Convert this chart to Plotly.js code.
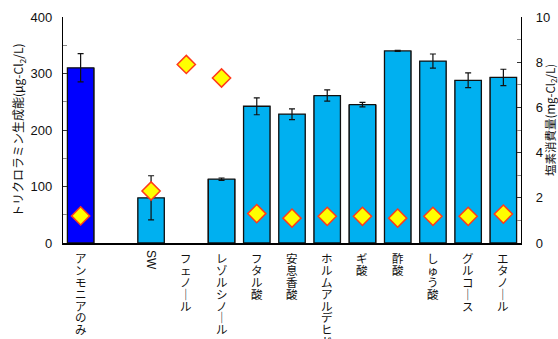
<!DOCTYPE html>
<html>
<head>
<meta charset="utf-8">
<script src="https://cdn.plot.ly/plotly-3.0.1.min.js"></script>
<style>
  html, body { margin: 0; padding: 0; background: #fff; }
  #chart { width: 558px; height: 339px; }
</style>
</head>
<body>
<div id="chart"></div>
<script>
// Compounds added to the chlorinated water
const categories = ['アンモニアのみ', 'SW', 'フェノール', 'レゾルシノール', 'フタル酸', '安息香酸',
  'ホルムアルデヒド', 'ギ酸', '酢酸', 'しゅう酸', 'グルコース', 'エタノール'];

// Axis slots: an empty slot sits between the ammonia-only control and the rest
const axisSlots = ['アンモニアのみ', '\u3000', 'SW', 'フェノール', 'レゾルシノール', 'フタル酸', '安息香酸',
  'ホルムアルデヒド', 'ギ酸', '酢酸', 'しゅう酸', 'グルコース', 'エタノール'];

// Trichloramine formation potential (µg-Cl2/L) and its error
const trichloramine = [310, 80, null, 113, 242, 228, 261, 245, 340, 322, 288, 293];
const trichloramineErr = [25, 39, 0, 2, 15, 9.5, 10, 4, 1, 12.5, 13, 14.5];

// Chlorine consumption (mg-Cl2/L)
const chlorineDemand = [1.2, 2.3, 7.9, 7.3, 1.3, 1.1, 1.18, 1.18, 1.1, 1.18, 1.18, 1.28];

const barColors = categories.map((c, i) => i === 0 ? '#0000FF' : '#00B0F0');

const FONT = 'Liberation Sans, Arial, Noto Sans CJK JP, sans-serif';
const JFONT = 'Noto Sans CJK JP, Liberation Sans, sans-serif';

const shadow = {
  type: 'bar', x: categories, y: trichloramine,
  width: 0.8, marker: { color: '#9a9a9a', line: { width: 0 } },
  hoverinfo: 'skip', showlegend: false
};

const bars = {
  type: 'bar', x: categories, y: trichloramine,
  width: 0.75,
  marker: { color: barColors, line: { color: '#111', width: 1.3 } },
  error_y: { type: 'data', array: trichloramineErr, visible: true, color: '#111', thickness: 1.2, width: 3 },
  showlegend: false
};

const diamonds = {
  type: 'scatter', mode: 'markers', x: categories, y: chlorineDemand, yaxis: 'y2',
  marker: { symbol: 'diamond', size: 14, color: '#FFFF00', line: { color: '#FF3A1A', width: 1.5 } },
  showlegend: false
};

// Vertical (tategaki) category labels: one character per line. The line
// pitch follows the base font size (1.3 em), the glyphs use a larger span.
const BASE = 9.15;
const GLYPH = 11.5;
const annotations = [];
categories.forEach(name => {
  if (/^[A-Za-z]+$/.test(name)) {
    annotations.push({
      text: name, x: name, xref: 'x', y: 0, yref: 'paper',
      xanchor: 'center', yanchor: 'top', yshift: -5, textangle: 90,
      showarrow: false, font: { family: FONT, size: 12, color: '#111' }
    });
    return;
  }
  const lines = Array.from(name).map(ch =>
    '<span style="font-size:' + GLYPH + 'px">' + (ch === 'ー' ? '｜' : ch) + '</span>');
  annotations.push({
    text: lines.join('<br>'), x: name, xref: 'x', y: 0, yref: 'paper',
    xanchor: 'center', yanchor: 'top', yshift: -6, borderpad: 0,
    showarrow: false, font: { family: JFONT, size: BASE, color: '#111' }
  });
});

annotations.push({
  text: 'トリクロラミン生成能(μg-Cl<sub>2</sub>/L)', xref: 'paper', yref: 'paper',
  x: 0, y: 0.5, xshift: -45, xanchor: 'center', yanchor: 'middle', textangle: -90,
  showarrow: false, font: { family: JFONT, size: 12, color: '#111' }
});
annotations.push({
  text: '塩素消費量(mg-Cl<sub>2</sub>/L)', xref: 'paper', yref: 'paper',
  x: 1, y: 0.5, xshift: 29, yshift: 10, xanchor: 'center', yanchor: 'middle', textangle: -90,
  borderpad: 0,
  showarrow: false, font: { family: JFONT, size: 11.5, color: '#111' }
});

const layout = {
  width: 558, height: 339,
  margin: { l: 63, r: 37, t: 17, b: 96 },
  paper_bgcolor: '#fff', plot_bgcolor: '#fff',
  barmode: 'overlay', bargap: 0,
  xaxis: {
    type: 'category', categoryorder: 'array', categoryarray: axisSlots,
    range: [-0.5, 12.5], showticklabels: false, ticks: '',
    showline: true, linecolor: '#000', linewidth: 1.5, showgrid: false, zeroline: false
  },
  yaxis: {
    range: [0, 400], dtick: 100, ticks: 'inside', ticklen: 4, tickcolor: '#333',
    showline: true, linecolor: '#000', linewidth: 1.2, showgrid: false, zeroline: false,
    minor: { dtick: 50, ticks: 'inside', ticklen: 4, tickcolor: '#888' },
    tickfont: { family: FONT, size: 13, color: '#111' }, ticklabelstandoff: 7
  },
  yaxis2: {
    overlaying: 'y', side: 'right',
    range: [0, 10], dtick: 2, ticks: 'inside', ticklen: 4, tickcolor: '#333',
    showline: true, linecolor: '#000', linewidth: 1.2, showgrid: false, zeroline: false,
    minor: { dtick: 1, ticks: 'inside', ticklen: 4, tickcolor: '#888' },
    tickfont: { family: FONT, size: 13, color: '#111' }, ticklabelstandoff: 11
  },
  annotations: annotations
};

Plotly.newPlot('chart', [shadow, bars, diamonds], layout, { displayModeBar: false, staticPlot: true });
</script>
</body>
</html>
